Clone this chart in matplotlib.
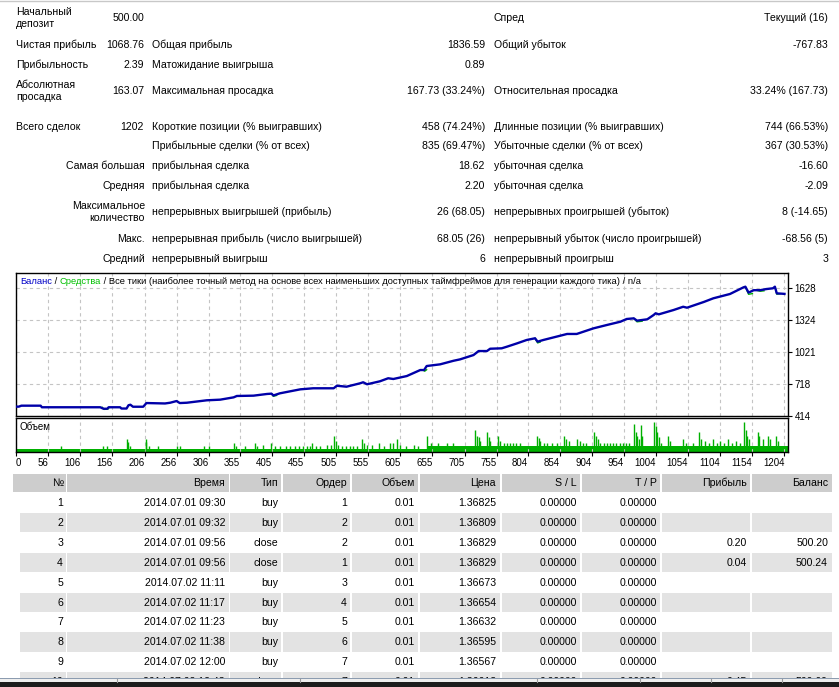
import matplotlib
matplotlib.use("Agg")
import matplotlib.pyplot as plt
from matplotlib.patches import Rectangle

# ---- summary block ----
col1_labels = ["Начальный\nдепозит", "Чистая прибыль", "Прибыльность", "Абсолютная\nпросадка", "Всего сделок"]
col1_values = ["500.00", "1068.76", "2.39", "163.07", "1202"]
prefix_labels = ["", "", "", "", "", "", "Самая большая", "Средняя",
                 "Максимальное\nколичество", "Макс.", "Средний"]
col2_labels = ["", "Общая прибыль", "Матожидание выигрыша", "Максимальная просадка",
               "Короткие позиции (% выигравших)", "Прибыльные сделки (% от всех)",
               "прибыльная сделка", "прибыльная сделка", "непрерывных выигрышей (прибыль)",
               "непрерывная прибыль (число выигрышей)", "непрерывный выигрыш"]
col2_values = ["", "1836.59", "0.89", "167.73 (33.24%)", "458 (74.24%)", "835 (69.47%)",
               "18.62", "2.20", "26 (68.05)", "68.05 (26)", "6"]
col3_labels = ["Спред", "Общий убыток", "", "Относительная просадка",
               "Длинные позиции (% выигравших)", "Убыточные сделки (% от всех)",
               "убыточная сделка", "убыточная сделка", "непрерывных проигрышей (убыток)",
               "непрерывный убыток (число проигрышей)", "непрерывный проигрыш"]
col3_values = ["Текущий (16)", "-767.83", "", "33.24% (167.73)", "744 (66.53%)", "367 (30.53%)",
               "-16.60", "-2.09", "8 (-14.65)", "-68.56 (5)", "3"]

# ---- balance / equity curve (trade number, balance) ----
bal_n = [6, 10, 14, 44, 46, 137, 142, 148, 150, 168, 170, 178, 181, 184, 188, 204, 209, 238,
         246, 256, 261, 272, 303, 324, 345, 350, 376, 397, 404, 407, 417, 438, 449, 469, 501,
         506, 521, 542, 547, 553, 573, 586, 594, 615, 636, 642, 646, 667, 688, 698, 719, 727,
         740, 745, 763, 771, 787, 802, 815, 819, 828, 854, 865, 880, 906, 927, 948, 958, 969,
         974, 990, 1000, 1003, 1008, 1031, 1046, 1052, 1078, 1093, 1119, 1140, 1143, 1148,
         1156, 1166, 1176, 1186, 1189, 1192, 1204]
bal_v = [500, 500, 509, 509, 494, 494, 480, 480, 494, 494, 482, 482, 513, 518, 499, 499, 534, 530,
         537, 553, 534, 537, 560, 566, 588, 601, 604, 620, 623, 606, 626, 651, 664, 674, 674,
         698, 689, 721, 731, 712, 740, 769, 762, 790, 847, 847, 885, 901, 935, 948, 989, 1027,
         1027, 1049, 1053, 1068, 1100, 1132, 1148, 1116, 1132, 1172, 1189, 1189, 1242, 1274, 1305,
         1331, 1337, 1315, 1328, 1369, 1385, 1375, 1416, 1447, 1438, 1492, 1527, 1568, 1631,
         1637, 1581, 1604, 1604, 1615, 1622, 1637, 1574, 1569]
equity_dips = [
    ([140, 143, 149, 151], [494, 474, 476, 494]),
    ([404, 407, 412], [623, 598, 606]),
    ([640, 643, 646], [847, 836, 850]),
    ([815, 819, 823], [1148, 1104, 1112]),
    ([969, 974, 982], [1337, 1304, 1310]),
    ([1143, 1148, 1154], [1637, 1565, 1572]),
    ([1160, 1166, 1172], [1604, 1594, 1598]),
    ([1189, 1192, 1197], [1637, 1566, 1570]),
]

# ---- volume panel (units of 0.01 lot) ----
base_n = [6, 646, 1209]
base_v = [1, 2, 2]
spike_n = [75, 141, 148, 178, 180, 183, 208, 209, 213, 227, 256, 261, 298, 306, 345, 348, 363,
           378, 381, 391, 404, 410, 418, 426, 433, 440, 447, 453, 459, 464, 467, 473, 480, 490,
           497, 502, 505, 508, 514, 520, 526, 531, 537, 545, 548, 553, 561, 571, 579, 589, 594,
           600, 605, 613, 626, 633,
           646, 652, 664, 677, 687, 722, 724, 727, 729, 740, 743, 745, 758, 761, 766, 771, 776,
           781, 786, 791, 818, 821, 823, 829, 834, 842, 849, 860, 864, 868, 880, 885, 890, 895,
           907, 910, 913, 916, 922, 927, 932, 937, 942, 947, 952, 957, 962, 969, 972, 974, 977,
           980, 982, 1000, 1003, 1005, 1008, 1011, 1022, 1025, 1046, 1051, 1061, 1071, 1074,
           1080, 1086, 1092, 1098, 1104, 1110, 1116, 1122, 1128, 1134, 1141, 1144, 1146, 1149,
           1162, 1164, 1171, 1178, 1181, 1190, 1194]
spike_v = [2, 2, 2, 4.5, 3.5, 2, 4.5, 3.5, 2, 2, 2, 2, 2, 2, 3.3, 2, 2,
           3.3, 2, 2.6, 3.3, 2, 2, 2, 2, 2, 2, 2, 2, 2, 3.3, 2, 2, 2.6,
           2.6, 5.7, 3.8, 2.6, 2, 2, 2, 2, 2, 4.5, 3.3, 2.6, 2.6, 3.3, 2, 3.3, 3.3,
           4.5, 2.6, 2, 2.6, 2,
           5.7, 3.3, 3.3, 3.3, 3.3, 8, 5.7, 5.3, 3.8, 7, 5.3, 3.8, 5.7, 3.8, 3.3, 3.3, 3.3,
           3.3, 3.3, 3.3, 5.7, 5, 3.8, 3.3, 3.3, 3.3, 3.3, 5.7, 4.5, 3.8, 4.5, 3.8, 3.3, 3.3,
           7, 5.7, 4.5, 3.3, 3.3, 3.3, 3.3, 3.3, 3.3, 3.3, 3.3, 3.3, 3.3, 10, 7, 5.7, 4.5,
           9.6, 5.7, 10.7, 9.3, 7, 5.3, 3.3, 5.7, 3.8, 4.5, 3.3, 3.3, 7, 4.5,
           3.8, 3.3, 4.5, 3.3, 3.8, 3.3, 4.5, 3.3, 3.8, 3.3, 10.7, 8, 5.7, 4.5,
           7, 5.7, 4.5, 5.7, 4.5, 5.7, 3.8]

x_tick_labels = [0, 56, 106, 156, 206, 256, 306, 355, 405, 455, 505, 555, 605, 655, 705, 755,
                 804, 854, 904, 954, 1004, 1054, 1104, 1154, 1204]
y_ticks = [414, 718, 1021, 1324, 1628]

# ---- deals table ----
tbl_header = ["№", "Время", "Тип", "Ордер", "Объем", "Цена", "S / L", "T / P", "Прибыль", "Баланс"]
tbl_no = ["1", "2", "3", "4", "5", "6", "7", "8", "9", "10"]
tbl_time = ["2014.07.01 09:30", "2014.07.01 09:32", "2014.07.01 09:56", "2014.07.01 09:56",
            "2014.07.02 11:11", "2014.07.02 11:17", "2014.07.02 11:23", "2014.07.02 11:38",
            "2014.07.02 12:00", "2014.07.02 12:43"]
tbl_type = ["buy", "buy", "close", "close", "buy", "buy", "buy", "buy", "buy", "close"]
tbl_order = ["1", "2", "2", "1", "3", "4", "5", "6", "7", "7"]
tbl_volume = ["0.01"] * 10
tbl_price = ["1.36825", "1.36809", "1.36829", "1.36829", "1.36673", "1.36654", "1.36632",
             "1.36595", "1.36567", "1.36613"]
tbl_sl = ["0.00000"] * 10
tbl_tp = ["0.00000"] * 10
tbl_profit = ["", "", "0.20", "0.04", "", "", "", "", "", "0.45"]
tbl_balance = ["", "", "500.20", "500.24", "", "", "", "", "", "500.69"]

W, H = 839, 687
FS = 7.6      # report / table text
FS_CH = 7.0   # chart axis labels
FS_LEG = 6.75 # chart caption
plt.rcParams['font.family'] = ['Liberation Sans', 'DejaVu Sans']
plt.rcParams['font.size'] = FS

fig = plt.figure(figsize=(W / 100, H / 100), dpi=100)
fig.patch.set_facecolor('white')

bg = fig.add_axes([0, 0, 1, 1], zorder=0)
bg.set_xlim(0, W)
bg.set_ylim(H, 0)
bg.axis('off')

bg.plot([0, W], [0.5, 0.5], color='#c8c8c8', lw=1)

#  summary text
row_y = [18, 45, 65, 91, 127, 146, 166, 186, 212, 239, 259]
for i, y in enumerate(row_y):
    if i < len(col1_labels):
        bg.text(16, y, col1_labels[i], ha='left', va='center', linespacing=1.25)
        bg.text(144, y, col1_values[i], ha='right', va='center')
    if prefix_labels[i]:
        bg.text(145, y, prefix_labels[i], ha='right', va='center', multialignment='right',
                linespacing=1.25)
    if col2_labels[i]:
        bg.text(152, y, col2_labels[i], ha='left', va='center')
    if col2_values[i]:
        bg.text(485, y, col2_values[i], ha='right', va='center')
    if col3_labels[i]:
        bg.text(494, y, col3_labels[i], ha='left', va='center')
    if col3_values[i]:
        bg.text(828, y, col3_values[i], ha='right', va='center')

#  balance chart
blue = '#0000a8'
green = '#00b000'
x_lo, x_hi = 5.6, 1209
ax = fig.add_axes([16 / W, 1 - 415.7 / H, 771.7 / W, 142.7 / H], zorder=2)
for dn, dv in equity_dips:
    ax.plot(dn, dv, color=green, lw=1.0, zorder=2)
ax.plot(bal_n, bal_v, color=blue, lw=1.7, zorder=3)
ax.set_xlim(x_lo, x_hi)
ax.set_ylim(414, 1767)
x_pos = [x_lo] + x_tick_labels[1:]
ax.set_xticks(x_pos)
ax.set_xticklabels([])
ax.tick_params(axis='x', length=0)
ax.yaxis.tick_right()
ax.set_yticks(y_ticks)
ax.set_yticklabels([str(v) for v in y_ticks])
ax.tick_params(axis='y', direction='out', length=3, pad=2, labelsize=FS_CH)
ax.grid(True, ls=(0, (3, 3)), color='#c4c4c4', lw=0.8)
for s in ax.spines.values():
    s.set_linewidth(1.0)

t = ax.text(20, 286.5, "Баланс", color='#0000c8', transform=bg.transData, va='bottom',
            fontsize=FS_LEG)
for s, c in [(" / ", 'black'), ("Средства", '#00c000'),
             (" / Все тики (наиболее точный метод на основе всех наименьших доступных "
              "таймфреймов для генерации каждого тика) / n/a", 'black')]:
    t = ax.annotate(s, xy=(1, 0), xycoords=t, va='bottom', ha='left', color=c, fontsize=FS_LEG)

#  volume panel
vax = fig.add_axes([16 / W, 1 - 452 / H, 771.7 / W, 34 / H], zorder=2)
vax.fill_between(base_n, base_v, step='post', color=green, lw=0)
vax.vlines(spike_n, 0, spike_v, color=green, lw=1.0)
vax.set_xlim(x_lo, x_hi)
vax.set_ylim(0, 12.1)
vax.set_yticks([])
vax.set_xticks(x_pos)
vax.set_xticklabels([str(v) for v in x_tick_labels])
vax.tick_params(axis='x', direction='out', length=3, pad=1.5, labelsize=FS_CH)
for i, lbl in enumerate(vax.get_xticklabels()):
    lbl.set_ha('left' if i == 0 else 'right')
vax.grid(True, axis='x', ls=(0, (3, 3)), color='#c4c4c4', lw=0.8)
vax.text(20, 427, "Объем", transform=bg.transData, va='center', fontsize=FS_CH)
for s in vax.spines.values():
    s.set_linewidth(1.0)

#  deals table
cell_l = [13, 67, 230, 283, 352, 420, 502, 582, 662, 752]
cell_r = [66, 229, 281, 350, 418, 500, 580, 660, 750, 832]
text_r = [63, 225, 278, 347, 415, 496, 577, 657, 747, 828]
for l, r, tx, h in zip(cell_l, cell_r, text_r, tbl_header):
    bg.add_patch(Rectangle((l, 474), r - l, 18, color='#cdcdcd', lw=0))
    bg.text(tx, 483, h, ha='right', va='center')

columns = [tbl_no, tbl_time, tbl_type, tbl_order, tbl_volume, tbl_price, tbl_sl, tbl_tp,
           tbl_profit, tbl_balance]
for i in range(len(tbl_no)):
    yc = 503 + 19.9 * i
    if i % 2 == 1:
        for j, (l, r) in enumerate(zip(cell_l, cell_r)):
            l = 20 if j == 0 else l
            bg.add_patch(Rectangle((l, yc - 10), r - l, 19.5, color='#e3e3e3', lw=0))
    for j, col in enumerate(columns):
        bg.text(text_r[j], yc, col[i], ha='right', va='center')

#  status bar (covers the cut-off last row)
bg.add_patch(Rectangle((0, 677.5), W, 1.2, color='#8c9cb0', lw=0, zorder=5))
bg.add_patch(Rectangle((0, 678.7), W, 3.5, color='#eeeeee', lw=0, zorder=5))
bg.add_patch(Rectangle((0, 682), W, 6, color='#1c1c1c', lw=0, zorder=5))
for x in [117, 300, 537, 640, 711, 782]:
    bg.plot([x, x], [678.7, 682], color='#9a9a9a', lw=0.8, zorder=6)

fig.savefig("out.png", dpi=100, facecolor='white')
